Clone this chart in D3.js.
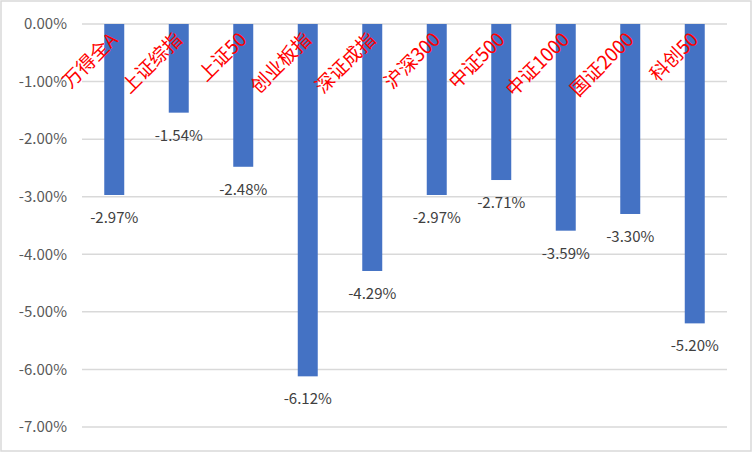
<!DOCTYPE html>
<html><head><meta charset="utf-8">
<script src="https://cdn.jsdelivr.net/npm/d3@7"></script>
<style>body{margin:0;background:#fff}</style>
</head><body>
<svg id="c" width="753" height="453"></svg>
<script>
const categories = ["万得全A","上证综指","上证50","创业板指","深证成指","沪深300","中证500","中证1000","国证2000","科创50"];
const values = [-2.97,-1.54,-2.48,-6.12,-4.29,-2.97,-2.71,-3.59,-3.30,-5.20];
const yTicks = [0,-1,-2,-3,-4,-5,-6,-7];

const svg = d3.select("#c");
svg.append("rect").attr("x",1).attr("y",1).attr("width",750).attr("height",450)
  .attr("fill","#fff").attr("stroke","#D9D9D9").attr("stroke-width",1.5);

const x = d3.scaleBand().domain(categories).range([82,727]).paddingInner(0.69).paddingOuter(0.345);
const y = d3.scaleLinear().domain([-7,0]).range([427,24]);

const font = "'Noto Sans CJK SC','Liberation Sans',sans-serif";

// gridlines
const grid = svg.append("g");
grid.selectAll("line").data(yTicks).join("line")
  .attr("x1",82).attr("x2",727).attr("y1",d=>y(d)).attr("y2",d=>y(d))
  .attr("stroke","#D9D9D9").attr("stroke-width",1.5);

// y axis labels
const yAxis = d3.axisLeft(y).tickValues(yTicks).tickSize(0).tickPadding(0)
  .tickFormat(d=>d3.format(".2f")(d).replace("−","-")+"%");
const ga = svg.append("g").attr("transform","translate(67,0)").call(yAxis);
ga.select(".domain").remove();
ga.selectAll("text").attr("font-family",font).attr("font-size",15).attr("fill","#595959");

// bars
svg.append("g").selectAll("rect").data(values).join("rect")
  .attr("x",(d,i)=>x(categories[i])).attr("width",x.bandwidth())
  .attr("y",y(0)).attr("height",d=>y(d)-y(0)).attr("fill","#4472C4");

// data labels
svg.append("g").selectAll("text").data(values).join("text")
  .attr("x",(d,i)=>x(categories[i])+x.bandwidth()/2).attr("y",d=>y(d)+28)
  .attr("text-anchor","middle").attr("font-family",font).attr("font-size",15)
  .attr("fill","#404040").text(d=>d3.format(".2f")(d).replace("−","-")+"%");

// category labels
svg.append("g").selectAll("text").data(categories).join("text")
  .attr("transform",d=>`translate(${x(d)+x.bandwidth()/2},${36}) rotate(-45)`)
  .attr("text-anchor","end").attr("dy","0.35em")
  .attr("font-family",font).attr("font-size",19).attr("fill","#FF0000").text(d=>d);
</script>
</body></html>
